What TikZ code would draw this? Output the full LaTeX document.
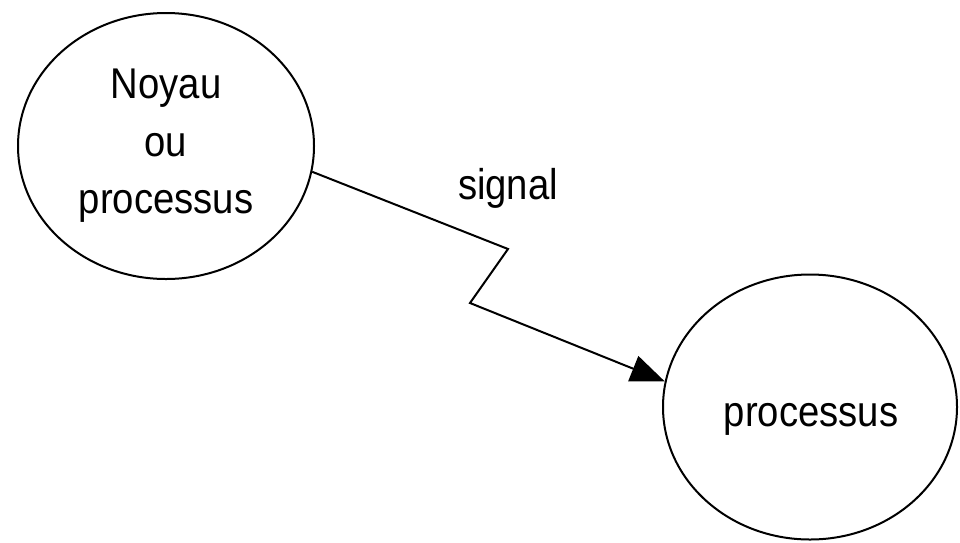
\documentclass[tikz,border=0pt]{standalone}
\usepackage{fontspec}
\setmainfont{Liberation Sans}[FakeStretch=0.89]
\usetikzlibrary{shapes.geometric,arrows.meta}
\begin{document}
\begin{tikzpicture}[x=1pt,y=-1pt,
  bubble/.style={draw=black,line width=2pt,ellipse,inner sep=0pt,align=center,
    font=\fontsize{43}{57.5}\selectfont},
  lbl/.style={font=\fontsize{43}{57.5}\selectfont,inner sep=0pt},
  conn/.style={line width=2pt,-{Triangle[length=34pt,width=27pt]}}]
\useasboundingbox (0,0) rectangle (960,542);
\fill[white] (0,0) rectangle (960,542);
\node[bubble,minimum width=296pt,minimum height=266pt] (a) at (166,146) {Noyau\\ou\\processus};
\node[bubble,minimum width=294pt,minimum height=265pt] (b) at (810,407) {};
\node[lbl] (bt) at (811,419) {processus};
\coordinate (c1) at (508,249);
\coordinate (c2) at (470,303);
\draw[conn] (a.-10) -- (c1) -- (c2) -- (b.170);
\node[lbl] (s) at (508,188) {signal};
\end{tikzpicture}
\end{document}
